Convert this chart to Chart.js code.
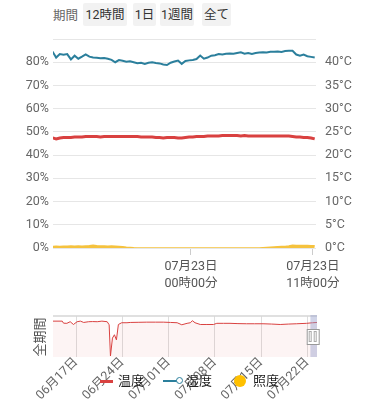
<!DOCTYPE html>
<html>
<head>
<meta charset="utf-8">
<script src="https://cdn.jsdelivr.net/npm/chart.js@4.4.0/dist/chart.umd.min.js"></script>
<style>
body { margin: 0; width: 375px; height: 400px; overflow: hidden; background: #fff; position: relative;
  font-family: Roboto, "Noto Sans CJK JP", sans-serif; }
.lbl { position: absolute; left: 53px; top: 4px; height: 23px; line-height: 23px; font-size: 12.5px; color: #666; }
.btn { position: absolute; top: 3px; height: 23px; line-height: 23px; text-align: center; font-size: 12.5px;
  color: #333; background: #f2f2f2; border-radius: 2px; }
#mainWrap { position: absolute; left: 0; top: 30px; width: 375px; height: 270px; }
#ovWrap { position: absolute; left: 0; top: 300px; width: 375px; height: 100px; }
#allLbl { position: absolute; left: 18px; top: 328px; width: 44px; height: 18px; line-height: 18px; text-align: center;
  font-size: 13px; color: #555; transform: rotate(-90deg); }
#legend { position: absolute; left: 0; top: 372px; width: 375px; height: 18px; font-size: 13px; color: #222; }
#legend span { position: absolute; top: 0; line-height: 18px; }
.mk { position: absolute; }
</style>
</head>
<body>
<span class="lbl">期間</span>
<span class="btn" style="left:83px;width:44px">12時間</span>
<span class="btn" style="left:133px;width:23px">1日</span>
<span class="btn" style="left:160px;width:34px">1週間</span>
<span class="btn" style="left:202px;width:29px">全て</span>

<div id="mainWrap"><canvas id="mainChart"></canvas></div>
<div id="ovWrap"><canvas id="ovChart"></canvas></div>
<div id="allLbl">全期間</div>

<div id="legend">
  <div class="mk" style="left:100px;top:8px;width:13px;height:3px;background:#d94140"></div>
  <span style="left:118px">温度</span>
  <div class="mk" style="left:163px;top:8px;width:14px;height:2px;background:#2b7f9c"></div>
  <div class="mk" style="left:176px;top:5px;width:5px;height:5px;border:1px solid #2b7f9c;border-radius:50%;background:#fff"></div>
  <span style="left:186px">湿度</span>
  <div class="mk" style="left:234px;top:3px;width:12px;height:12px;border-radius:50%;background:#ffc000"></div>
  <span style="left:253px">照度</span>
</div>

<script>
// main view: minutes from 07/23 00:00, one sample every 20 min
const mainStart = -750;
const mainStep = 20;

const humidity = [84.6, 82.0, 83.5, 83.2, 83.5, 81.2, 82.8, 81.5, 82.4, 83.4,
  82.4, 82.0, 81.9, 81.7, 81.8, 81.5, 81.0, 80.0, 80.9, 80.6,
  80.2, 80.4, 80.0, 79.6, 79.8, 79.3, 79.8, 80.0, 79.7, 79.5,
  79.0, 78.8, 79.8, 80.3, 80.7, 79.3, 80.5, 80.8, 81.0, 81.4,
  82.9, 81.5, 82.0, 82.8, 83.0, 83.5, 83.3, 83.6, 83.8, 83.7,
  84.0, 84.3, 83.7, 84.0, 83.6, 84.0, 84.2, 84.3, 84.2, 84.5,
  84.5, 84.6, 84.4, 84.8, 84.9, 84.9, 83.3, 82.8, 83.3, 82.6,
  82.3, 82.0];

const temperature = [23.7, 23.5, 23.7, 23.8, 23.8, 23.8, 23.9, 23.9, 23.9, 24.0,
  24.0, 24.0, 24.0, 23.9, 24.0, 24.0, 24.0, 24.0, 24.0, 24.0,
  24.0, 24.0, 24.0, 24.0, 23.9, 23.9, 23.9, 23.9, 23.8, 23.8,
  23.7, 23.8, 23.8, 23.8, 23.7, 23.7, 23.8, 23.9, 23.9, 24.0,
  24.0, 24.0, 24.1, 24.1, 24.1, 24.1, 24.2, 24.2, 24.2, 24.2,
  24.2, 24.1, 24.2, 24.1, 24.1, 24.1, 24.1, 24.1, 24.1, 24.1,
  24.1, 24.1, 24.1, 24.1, 24.1, 24.0, 23.9, 23.9, 23.8, 23.8,
  23.7, 23.5];

const illuminance = [6, 7, 6, 8, 8, 9, 8, 9, 8, 9,
  10, 12, 10, 9, 9, 8, 9, 8, 7, 5,
  3, 2, 1, 0.5, 0, 0, 0, 0, 0, 0,
  0, 0, 0, 0, 0, 0, 0, 0, 0, 0,
  0, 0, 0, 0, 0, 0, 0, 0, 0, 0,
  0, 0, 0, 0, 0, 0, 0, 1, 2, 3,
  4, 5, 6, 7, 9, 12, 11, 11, 11, 11,
  10, 10];

const xTickMins = [0, 660];
const xTickLabels = [['07月23日', '00時00分'], ['07月23日', '11時00分']];

// overview: days from 06/17
const ovDays = [-3.5, -2.1, -1.9, -1.4, -0.9, -0.4, 0.15, 0.65, 1.15, 1.9,
  2.5, 3.2, 3.9, 4.7, 5.0, 5.2, 5.5, 5.8, 6.1, 6.4,
  6.9, 7.7, 8.2, 9.5, 10.7, 12, 13.2, 14.3, 15.3, 16.0,
  16.8, 17.3, 17.6, 18.0, 18.8, 19.8, 20.8, 21.3, 22.3, 23.3,
  24.5, 25.8, 27, 28.3, 29.6, 30.9, 32.2, 33.4, 34.9, 35.8, 36.47];
const ovTemp = [24.5, 24.5, 23.1, 23.0, 24.1, 22.2, 24.1, 24.5, 23.6, 24.1,
  24.2, 24.1, 24.5, 24.1, 22.0, 0.7, 12.9, 15.2, 11.7, 22.2,
  23.4, 23.4, 23.6, 23.7, 23.8, 23.8, 23.8, 23.6, 23.4, 22.0,
  23.0, 23.4, 24.8, 23.4, 22.2, 22.2, 22.2, 23.0, 23.0, 23.0,
  22.8, 22.7, 22.7, 22.7, 22.5, 22.2, 22.5, 22.7, 23.0, 23.4, 23.6];
const ovTickDays = [0, 7, 14, 21, 28, 35];
const ovTickLabels = ['06月17日', '06月24日', '07月01日', '07月08日', '07月15日', '07月22日'];
const selStart = 35.47;

const RED = '#d94140';
const TEAL = '#2b7f9c';
const YELLOW = '#f5c23e';
const tickFont = { family: 'Roboto, "Noto Sans CJK JP", sans-serif', size: 12.5 };

const times = humidity.map((v, i) => mainStart + mainStep * i);
const pts = arr => arr.map((v, i) => ({ x: times[i], y: v }));

// keep label overhang out of the layout so the plot box sits where we want it
const noOverhang = w => s => { s.width = w; s.paddingTop = 0; s.paddingBottom = 0; };

new Chart(document.getElementById('mainChart'), {
  type: 'line',
  data: {
    datasets: [
      { label: '温度', data: pts(temperature), yAxisID: 'y2', borderColor: RED, borderWidth: 3, pointRadius: 0 },
      { label: '湿度', data: pts(humidity), yAxisID: 'y', borderColor: TEAL, borderWidth: 2, pointRadius: 0 },
      { label: '照度', data: pts(illuminance), yAxisID: 'y3', borderColor: YELLOW, borderWidth: 1.5,
        backgroundColor: YELLOW, fill: 'origin', pointRadius: 0 },
    ],
  },
  options: {
    responsive: true,
    maintainAspectRatio: false,
    animation: false,
    layout: { padding: { top: 9, left: 0, right: 0, bottom: 0 } },
    plugins: { legend: { display: false }, tooltip: { enabled: false } },
    scales: {
      x: {
        type: 'linear', min: -747, max: 677,
        afterBuildTicks: s => { s.ticks = xTickMins.map(v => ({ value: v })); },
        afterFit: s => { s.height = 52; s.paddingLeft = 0; s.paddingRight = 0; },
        ticks: {
          autoSkip: false, maxRotation: 0, color: '#555', font: { ...tickFont, lineHeight: 1.3 }, padding: 4,
          callback: v => xTickLabels[xTickMins.indexOf(v)],
        },
        grid: { drawOnChartArea: false, tickLength: 7, color: '#ccc' },
        border: { display: false },
      },
      y: {
        position: 'left', min: 0, max: 90,
        afterFit: noOverhang(53),
        ticks: { stepSize: 10, color: '#666', font: tickFont, padding: 4, callback: v => v === 90 ? '' : v + '%' },
        grid: { color: '#e6e6e6', drawTicks: false },
        border: { display: false },
      },
      y2: {
        position: 'right', min: 0, max: 45,
        afterFit: noOverhang(59),
        ticks: { stepSize: 5, color: '#666', font: tickFont, padding: 9, callback: v => v === 45 ? '' : v + '°C' },
        grid: { drawOnChartArea: false, drawTicks: false },
        border: { display: false },
      },
      y3: { display: false, min: 0, max: 900 },
    },
  },
});

const sliderPlugin = {
  id: 'slider',
  beforeDatasetsDraw(chart) {
    const { ctx, chartArea } = chart;
    ctx.save();
    ctx.strokeStyle = '#d6d6d6';
    ctx.lineWidth = 1.5;
    ctx.beginPath();
    ctx.moveTo(chartArea.left, chartArea.top);
    ctx.lineTo(chartArea.right, chartArea.top);
    ctx.stroke();
    ctx.restore();
  },
  afterDatasetsDraw(chart) {
    const { ctx, chartArea, scales } = chart;
    const x0 = scales.x.getPixelForValue(selStart);
    const x1 = chartArea.right;
    ctx.save();
    ctx.fillStyle = 'rgba(150,160,205,0.45)';
    ctx.fillRect(x0, chartArea.top - 1, x1 - x0, chartArea.bottom - chartArea.top + 1);
    // handle
    const cx = (x0 + x1) / 2 - 1;
    const cy = (chartArea.top + chartArea.bottom) / 2;
    ctx.fillStyle = '#fff';
    ctx.strokeStyle = '#999';
    ctx.lineWidth = 1;
    ctx.fillRect(cx - 6, cy - 7.5, 12, 15);
    ctx.strokeRect(cx - 6 + 0.5, cy - 7.5 + 0.5, 12, 15);
    ctx.strokeStyle = '#aaa';
    ctx.strokeRect(cx - 3.5, cy - 5, 2, 10);
    ctx.strokeRect(cx + 1.5, cy - 5, 2, 10);
    ctx.restore();
  },
};

new Chart(document.getElementById('ovChart'), {
  type: 'line',
  data: {
    datasets: [{
      data: ovDays.map((d, i) => ({ x: d, y: ovTemp[i] })),
      borderColor: RED, borderWidth: 1, pointRadius: 0,
      fill: 'origin', backgroundColor: 'rgba(217,65,64,0.06)',
    }],
  },
  options: {
    responsive: true,
    maintainAspectRatio: false,
    animation: false,
    layout: { padding: { top: 16, left: 53, right: 58, bottom: 0 } },
    plugins: { legend: { display: false }, tooltip: { enabled: false } },
    scales: {
      x: {
        type: 'linear', min: -3.5, max: 36.47,
        afterBuildTicks: s => { s.ticks = ovTickDays.map(v => ({ value: v })); },
        afterFit: s => { s.height = 43; },
        ticks: {
          autoSkip: false, minRotation: 45, maxRotation: 45, color: '#666', font: tickFont, padding: -2,
          callback: v => ovTickLabels[ovTickDays.indexOf(v)],
        },
        grid: { color: '#ddd', drawTicks: false },
        border: { display: false },
      },
      y: { display: false, min: 0, max: 28 },
    },
  },
  plugins: [sliderPlugin],
});
</script>
</body>
</html>
